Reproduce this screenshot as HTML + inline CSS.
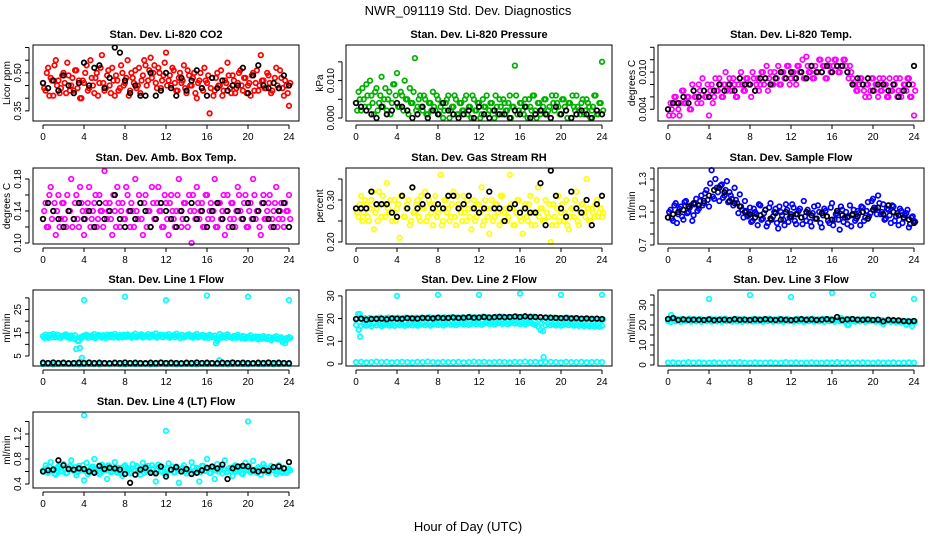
<!DOCTYPE html>
<html><head><meta charset="utf-8"><style>
html,body{margin:0;padding:0;background:#fff;width:936px;height:540px;overflow:hidden}
svg{display:block;font-family:"Liberation Sans",Arial,sans-serif}
</style></head><body>
<svg id="chart" width="936" height="540" viewBox="0 0 936 540" xmlns="http://www.w3.org/2000/svg">
<text x="468" y="15" font-size="13" text-anchor="middle">NWR_091119  Std. Dev. Diagnostics</text>
<text x="468" y="531" font-size="13" text-anchor="middle">Hour of Day (UTC)</text>
</svg>
<script>
const hourTicks=[0,4,8,12,16,20,24];
const co2A=[0.46,0.43,0.52,0.48,0.41,0.55,0.47,0.44,0.50,0.42,0.49,0.45,0.43,0.51,0.47,0.40,0.46,0.53,0.44,0.48,0.42,0.50,0.46,0.57,0.43,0.49,0.45,0.52,0.41,0.47,0.44,0.50,0.46,0.55,0.43,0.48,0.51,0.45,0.42,0.49,0.53,0.47,0.56,0.50,0.46,0.52,0.44,0.49,0.58,0.47,0.45,0.51,0.43,0.48,0.46,0.53,0.42,0.49,0.45,0.50,0.40,0.47,0.44,0.52,0.46,0.34,0.48,0.43,0.50,0.45,0.41,0.47,0.54,0.44,0.49,0.42,0.46,0.51,0.43,0.48,0.45,0.41,0.50,0.46,0.43,0.57,0.47,0.44,0.49,0.42,0.46,0.52,0.44,0.48,0.41,0.45,0.37];
const co2B=[0.44,0.50,0.41,0.47,0.53,0.45,0.42,0.49,0.46,0.54,0.43,0.48,0.51,0.44,0.40,0.47,0.50,0.43,0.55,0.45,0.48,0.41,0.52,0.46,0.44,0.51,0.42,0.47,0.49,0.43,0.53,0.45,0.48,0.41,0.50,0.46,0.44,0.52,0.47,0.55,0.45,0.51,0.48,0.53,0.44,0.50,0.47,0.54,0.45,0.49,0.52,0.46,0.43,0.50,0.47,0.44,0.51,0.45,0.48,0.42,0.46,0.50,0.43,0.47,0.49,0.44,0.41,0.48,0.45,0.51,0.43,0.46,0.49,0.42,0.47,0.44,0.50,0.45,0.48,0.42,0.46,0.49,0.43,0.51,0.45,0.47,0.44,0.50,0.46,0.43,0.48,0.45,0.51,0.44,0.47,0.42,0.46];
const co2Black=[0.46,0.44,0.47,0.43,0.49,0.45,0.42,0.46,0.54,0.45,0.52,0.53,0.44,0.48,0.60,0.58,0.47,0.42,0.45,0.41,0.41,0.50,0.41,0.43,0.50,0.44,0.41,0.48,0.43,0.47,0.51,0.44,0.41,0.48,0.44,0.47,0.43,0.45,0.45,0.52,0.42,0.49,0.53,0.45,0.44,0.46,0.44,0.49,0.45];
const presA=[0.004,0.007,0.002,0.005,0.009,0.003,0.006,0.001,0.008,0.004,0.011,0.005,0.002,0.007,0.004,0.009,0.012,0.003,0.006,0.010,0.005,0.008,0.004,0.016,0.003,0.006,0.002,0.005,0.001,0.004,0.007,0.002,0.005,0.003,0.000,0.004,0.006,0.002,0.003,0.005,0.001,0.004,0.002,0.006,0.003,0.000,0.005,0.002,0.004,0.001,0.003,0.006,0.002,0.004,0.000,0.003,0.005,0.001,0.004,0.002,0.006,0.003,0.014,0.001,0.004,0.002,0.005,0.000,0.003,0.006,0.002,0.004,0.001,0.003,0.005,0.002,0.000,0.004,0.006,0.003,0.001,0.005,0.002,0.004,0.000,0.003,0.006,0.002,0.004,0.001,0.005,0.003,0.002,0.006,0.001,0.004,0.015];
const presB=[0.002,0.005,0.008,0.003,0.006,0.010,0.004,0.007,0.002,0.006,0.003,0.008,0.005,0.001,0.009,0.006,0.003,0.007,0.002,0.005,0.001,0.004,0.007,0.002,0.005,0.003,0.006,0.001,0.004,0.002,0.003,0.006,0.001,0.004,0.002,0.005,0.000,0.003,0.006,0.001,0.004,0.002,0.005,0.001,0.003,0.006,0.002,0.004,0.000,0.005,0.003,0.001,0.004,0.002,0.006,0.001,0.003,0.005,0.002,0.004,0.000,0.003,0.006,0.002,0.004,0.001,0.003,0.005,0.002,0.006,0.000,0.004,0.002,0.005,0.001,0.003,0.006,0.002,0.004,0.001,0.005,0.003,0.000,0.004,0.006,0.002,0.003,0.001,0.005,0.002,0.004,0.000,0.003,0.006,0.001,0.004,0.002];
const presBlack=[0.004,0.003,0.002,0.001,0.000,0.003,0.001,0.002,0.004,0.003,0.002,0.000,0.001,0.003,0.000,0.002,0.001,0.004,0.002,0.001,0.000,0.001,0.002,0.000,0.003,0.001,0.000,0.002,0.001,0.001,0.000,0.002,0.001,0.003,0.000,0.001,0.002,0.001,0.000,0.003,0.001,0.002,0.000,0.001,0.002,0.001,0.000,0.002,0.001];
const tempA=[0.004,0.005,0.003,0.006,0.004,0.005,0.007,0.005,0.006,0.004,0.007,0.006,0.008,0.005,0.007,0.006,0.003,0.008,0.006,0.007,0.009,0.006,0.008,0.007,0.009,0.007,0.008,0.006,0.009,0.008,0.007,0.009,0.008,0.010,0.007,0.009,0.008,0.010,0.009,0.007,0.010,0.008,0.009,0.011,0.008,0.010,0.009,0.011,0.009,0.010,0.008,0.011,0.010,0.009,0.0125,0.010,0.011,0.009,0.010,0.012,0.010,0.011,0.009,0.011,0.010,0.012,0.011,0.010,0.011,0.012,0.010,0.011,0.009,0.008,0.007,0.009,0.008,0.006,0.008,0.007,0.009,0.008,0.006,0.007,0.009,0.008,0.006,0.007,0.008,0.009,0.007,0.006,0.008,0.007,0.009,0.006,0.003];
const tempB=[0.003,0.004,0.006,0.005,0.003,0.007,0.005,0.006,0.004,0.008,0.006,0.005,0.007,0.009,0.006,0.008,0.007,0.005,0.009,0.007,0.008,0.006,0.010,0.008,0.007,0.009,0.006,0.008,0.010,0.007,0.009,0.008,0.006,0.009,0.008,0.007,0.010,0.008,0.011,0.009,0.008,0.010,0.009,0.008,0.010,0.009,0.011,0.008,0.010,0.009,0.011,0.010,0.012,0.009,0.011,0.010,0.009,0.011,0.010,0.012,0.011,0.009,0.012,0.010,0.011,0.012,0.010,0.011,0.012,0.011,0.009,0.010,0.008,0.007,0.008,0.009,0.007,0.008,0.006,0.009,0.007,0.008,0.009,0.007,0.008,0.006,0.009,0.007,0.008,0.006,0.009,0.007,0.008,0.009,0.006,0.008,0.007];
const tempBlack=[0.004,0.005,0.005,0.006,0.005,0.007,0.006,0.007,0.006,0.007,0.008,0.007,0.008,0.007,0.009,0.008,0.008,0.007,0.009,0.009,0.008,0.009,0.010,0.009,0.010,0.009,0.010,0.009,0.011,0.010,0.010,0.011,0.010,0.011,0.011,0.010,0.008,0.009,0.008,0.009,0.007,0.008,0.008,0.007,0.008,0.006,0.007,0.008,0.011];
const ambA=[0.13,0.15,0.12,0.17,0.14,0.11,0.16,0.13,0.15,0.12,0.14,0.18,0.13,0.16,0.12,0.15,0.11,0.14,0.17,0.13,0.15,0.12,0.16,0.14,0.19,0.13,0.15,0.11,0.14,0.17,0.12,0.15,0.13,0.16,0.12,0.14,0.18,0.13,0.15,0.11,0.16,0.14,0.12,0.15,0.13,0.17,0.14,0.12,0.15,0.11,0.16,0.13,0.14,0.18,0.12,0.15,0.13,0.16,0.10,0.14,0.17,0.13,0.15,0.12,0.16,0.14,0.13,0.18,0.12,0.15,0.14,0.11,0.16,0.13,0.15,0.12,0.17,0.14,0.13,0.16,0.12,0.15,0.18,0.13,0.14,0.11,0.16,0.13,0.15,0.12,0.14,0.17,0.13,0.15,0.12,0.14,0.16];
const ambB=[0.14,0.12,0.16,0.13,0.15,0.14,0.12,0.15,0.13,0.16,0.14,0.12,0.15,0.13,0.17,0.14,0.13,0.15,0.12,0.14,0.16,0.13,0.14,0.12,0.15,0.14,0.13,0.16,0.12,0.15,0.14,0.13,0.17,0.14,0.15,0.12,0.14,0.16,0.13,0.15,0.12,0.14,0.17,0.13,0.15,0.14,0.12,0.16,0.13,0.15,0.14,0.12,0.16,0.14,0.13,0.15,0.12,0.14,0.16,0.13,0.15,0.14,0.12,0.16,0.13,0.15,0.14,0.12,0.15,0.13,0.16,0.14,0.12,0.15,0.13,0.14,0.16,0.13,0.15,0.12,0.14,0.13,0.16,0.14,0.12,0.15,0.13,0.14,0.16,0.13,0.15,0.12,0.14,0.13,0.15,0.14,0.13];
const ambBlack=[0.13,0.15,0.14,0.13,0.12,0.14,0.13,0.15,0.13,0.14,0.12,0.15,0.13,0.14,0.16,0.13,0.12,0.14,0.13,0.15,0.14,0.12,0.13,0.15,0.14,0.13,0.12,0.14,0.13,0.15,0.13,0.14,0.12,0.14,0.15,0.13,0.14,0.12,0.14,0.13,0.15,0.13,0.14,0.15,0.13,0.12,0.14,0.15,0.12];
const rhA=[0.28,0.26,0.31,0.27,0.29,0.25,0.30,0.23,0.28,0.32,0.26,0.29,0.34,0.27,0.25,0.30,0.28,0.21,0.31,0.26,0.29,0.24,0.33,0.27,0.30,0.25,0.28,0.32,0.26,0.29,0.24,0.31,0.27,0.36,0.25,0.30,0.28,0.26,0.32,0.24,0.29,0.27,0.31,0.25,0.28,0.23,0.30,0.26,0.29,0.33,0.25,0.28,0.22,0.30,0.26,0.29,0.24,0.31,0.27,0.25,0.36,0.28,0.24,0.30,0.26,0.22,0.29,0.25,0.31,0.27,0.24,0.33,0.28,0.25,0.30,0.26,0.20,0.29,0.24,0.31,0.27,0.25,0.30,0.23,0.28,0.26,0.32,0.24,0.29,0.27,0.35,0.25,0.28,0.26,0.30,0.27,0.26];
const rhB=[0.27,0.29,0.25,0.30,0.26,0.28,0.32,0.27,0.25,0.29,0.31,0.26,0.28,0.30,0.27,0.25,0.29,0.31,0.26,0.28,0.30,0.25,0.27,0.29,0.26,0.31,0.28,0.25,0.30,0.27,0.29,0.26,0.28,0.24,0.30,0.27,0.25,0.29,0.26,0.31,0.28,0.25,0.27,0.30,0.26,0.28,0.25,0.29,0.27,0.24,0.30,0.26,0.28,0.25,0.29,0.27,0.31,0.25,0.28,0.26,0.29,0.24,0.27,0.30,0.25,0.28,0.26,0.29,0.24,0.27,0.30,0.26,0.28,0.25,0.27,0.29,0.24,0.26,0.28,0.25,0.29,0.27,0.24,0.26,0.28,0.30,0.25,0.27,0.29,0.26,0.28,0.25,0.27,0.29,0.26,0.28,0.27];
const rhBlack=[0.28,0.28,0.28,0.32,0.29,0.29,0.29,0.27,0.26,0.31,0.28,0.33,0.28,0.29,0.31,0.28,0.29,0.28,0.31,0.31,0.28,0.29,0.31,0.28,0.27,0.28,0.32,0.28,0.28,0.25,0.28,0.29,0.27,0.28,0.27,0.27,0.34,0.24,0.37,0.31,0.28,0.26,0.32,0.28,0.27,0.30,0.24,0.29,0.31];
const sfA=[0.95,1.02,0.92,1.08,0.98,1.05,0.93,1.10,1.00,1.06,0.97,1.12,1.03,1.15,1.08,1.20,1.05,1.38,1.12,1.22,1.10,1.25,1.15,1.28,1.18,1.12,1.22,1.08,1.16,1.02,1.10,0.96,1.04,0.92,1.00,0.88,1.06,0.94,1.02,0.90,1.08,0.96,1.03,0.85,1.00,0.93,1.07,0.91,0.98,1.04,0.89,1.01,0.95,1.10,0.92,0.99,0.87,1.05,0.94,1.00,0.86,1.03,0.96,0.90,1.08,0.93,0.99,0.84,1.02,0.95,0.89,1.06,0.97,0.92,1.01,0.88,1.04,0.95,1.09,0.99,1.12,1.03,1.15,0.98,1.07,0.94,1.02,0.90,1.05,0.96,0.88,1.01,0.94,0.99,0.86,0.95,0.92];
const sfB=[1.00,0.94,1.06,0.90,1.03,0.96,1.09,0.99,1.04,0.92,1.07,1.01,1.10,1.06,1.17,1.11,1.26,1.14,1.30,1.18,1.24,1.13,1.20,1.09,1.15,1.06,1.11,0.99,1.05,0.95,1.01,0.97,0.91,1.03,0.98,1.07,0.93,0.99,0.87,1.04,0.93,1.00,0.90,1.05,0.97,0.88,1.02,0.95,1.07,0.92,0.98,1.03,0.89,0.96,1.02,0.91,0.99,0.94,1.06,0.90,0.97,1.01,0.92,1.04,0.88,0.98,0.93,1.05,0.91,1.00,0.96,0.87,1.02,0.94,0.99,1.05,0.92,1.01,0.96,1.10,1.04,0.98,1.08,1.00,0.93,1.03,0.97,1.06,0.92,0.99,1.03,0.90,0.97,1.02,0.89,0.96,0.91];
const sfBlack=[0.95,0.98,1.00,1.02,1.05,1.08,1.06,1.10,1.15,1.20,1.22,1.18,1.10,1.08,1.05,1.00,0.98,0.95,0.97,1.02,0.94,0.99,0.93,1.00,0.96,0.98,0.95,1.00,0.97,0.94,0.99,0.96,0.93,1.01,0.97,0.95,0.98,0.96,1.00,0.94,1.02,1.04,0.98,1.06,1.00,0.97,0.95,0.93,0.90];
const l1A=[13.5,14.2,12.8,13.9,14.5,13.1,14.0,12.9,13.7,14.3,13.2,13.8,12.5,8.0,11.5,12.8,13.6,14.1,13.0,13.8,14.4,13.3,13.9,12.9,13.6,14.2,13.1,13.8,14.5,13.4,14.0,13.0,13.7,14.3,13.2,13.9,14.6,13.5,14.1,13.0,13.8,14.4,13.3,13.9,14.7,13.5,14.2,13.1,13.8,14.4,13.3,14.0,14.6,13.6,14.1,13.0,13.7,14.3,13.2,13.9,14.5,13.4,14.0,12.9,13.6,14.2,13.1,13.8,11.5,14.5,13.0,13.7,14.3,13.2,12.8,13.5,14.1,13.0,13.6,12.5,13.3,13.9,12.8,13.4,12.2,13.0,13.6,12.5,13.2,11.8,12.9,13.5,12.3,13.0,11.5,12.7,13.1];
const l1B=[12.8,13.4,14.0,13.0,13.6,14.2,12.9,13.5,14.1,13.1,12.7,13.3,13.9,11.5,13.0,13.5,14.0,12.9,13.6,13.1,12.7,14.0,13.4,13.9,12.8,13.5,14.1,13.0,13.6,12.9,13.4,14.1,13.2,13.7,12.9,13.5,13.1,13.8,14.3,13.2,13.6,13.0,14.2,13.5,12.9,13.6,13.2,14.0,13.4,12.9,13.7,13.1,13.5,12.8,13.9,13.3,14.1,13.4,12.9,13.6,13.0,13.5,14.0,13.2,12.8,13.6,13.1,10.5,12.5,13.3,13.8,12.9,13.4,13.0,13.6,12.8,13.2,12.6,13.4,12.9,13.1,12.5,13.0,12.6,13.2,12.4,12.9,12.3,13.0,12.5,12.8,12.2,12.6,11.0,10.5,12.4,12.8];
const l1Low=[1.5,1.6,1.4,1.5,1.7,1.5,1.6,1.4,1.5,1.6,1.5,1.4,1.6,1.5,1.7,1.5,1.4,1.6,1.5,1.5,1.6,1.4,1.5,1.7,1.5,1.6,1.4,1.5,1.6,1.5,1.4,1.6,1.5,1.7,1.5,1.6,1.4,1.5,1.6,1.5,1.4,1.6,1.5,1.5,1.6,1.4,1.5,1.6,1.5];
const l1Black=[2.1,2.0,2.2,2.0,2.1,1.9,2.0,2.1,2.0,2.2,2.0,2.1,2.0,1.9,2.1,2.0,2.2,2.0,2.1,2.0,1.9,2.1,2.0,2.2,2.0,2.1,2.0,1.9,2.1,2.0,2.2,2.0,2.1,2.0,1.9,2.1,2.0,2.2,2.0,2.1,2.0,1.9,2.1,2.0,2.2,2.0,2.1,2.0,1.9];
const l1ExtraHours=[4,8,12,16,20,24,3.6,3.8,17.2];
const l1ExtraValues=[29,30.5,29,31,30.5,29,8.5,4.2,3.2];
const l2A=[17.2,15.0,16.8,17.5,16.9,17.3,16.6,17.8,17.0,17.4,16.7,17.2,17.6,16.9,17.3,16.8,17.7,17.1,17.4,16.8,17.2,17.6,17.0,17.5,16.9,17.3,17.8,17.1,17.5,16.9,17.4,17.8,17.2,17.6,17.0,17.5,17.9,17.3,17.7,17.1,17.6,18.0,17.4,17.8,17.2,17.7,18.1,17.5,17.9,17.3,17.8,18.2,17.6,18.0,17.4,17.9,18.3,17.7,18.1,17.5,17.9,18.4,17.8,18.2,17.6,18.0,17.4,17.9,18.3,17.7,17.2,16.5,15.0,14.5,17.0,17.6,17.1,17.5,17.0,17.4,16.9,17.3,17.7,17.1,17.5,16.9,17.3,16.8,17.2,16.7,17.1,16.6,17.0,16.5,16.9,16.4,16.8];
const l2B=[20.0,22.0,19.5,20.2,19.8,20.3,19.7,20.1,19.9,20.4,19.8,20.2,20.5,19.9,20.3,20.0,20.4,19.8,20.2,20.5,20.0,20.3,19.9,20.4,20.1,20.5,19.9,20.3,20.6,20.1,20.4,20.0,20.5,20.2,20.6,20.0,20.4,20.7,20.1,20.5,20.2,20.6,20.0,20.4,20.8,20.2,20.6,20.1,20.5,20.9,20.3,20.7,20.1,20.5,20.8,20.3,20.6,20.9,20.4,20.7,20.2,20.6,21.0,20.4,20.8,20.2,20.6,20.1,20.5,20.9,20.3,19.5,18.0,19.0,20.2,20.5,20.0,20.4,19.9,20.3,19.8,20.2,20.5,19.9,20.3,19.8,20.1,19.7,20.0,19.6,19.9,19.5,19.8,19.4,19.7,19.3,19.6];
const l2Low=[0.8,0.9,0.7,0.8,1.0,0.8,0.9,0.7,0.8,0.9,0.8,0.7,0.9,0.8,1.0,0.8,0.7,0.9,0.8,0.8,0.9,0.7,0.8,1.0,0.8,0.9,0.7,0.8,0.9,0.8,0.7,0.9,0.8,1.0,0.8,0.9,0.7,0.8,0.9,0.8,0.7,0.9,0.8,0.8,0.9,0.7,0.8,0.9,0.8];
const l2Black=[19.8,20.0,19.5,19.8,19.9,20.0,19.7,20.1,20.0,19.9,20.2,20.1,20.0,20.3,20.2,20.1,20.4,20.2,20.3,20.5,20.3,20.4,20.6,20.4,20.5,20.7,20.5,20.6,20.8,20.6,20.7,20.9,20.7,21.0,20.8,20.7,20.6,20.5,20.4,20.3,20.2,20.3,20.1,20.2,20.0,20.1,19.9,20.0,19.8];
const l2ExtraHours=[4,8,12,16,20,24,0.2,0.4,18.3];
const l2ExtraValues=[30,30.5,30.5,31,30.5,30.5,22,12,3];
const l3A=[22.0,21.5,22.5,21.8,22.3,21.6,22.4,21.9,22.2,21.7,22.5,21.8,22.3,21.6,22.1,21.9,22.4,21.7,22.2,21.8,22.5,21.6,22.3,21.9,22.1,21.7,22.4,21.8,22.2,21.6,22.5,21.9,22.3,21.7,22.1,21.8,22.4,21.6,22.2,21.9,22.3,21.7,22.5,21.8,22.1,21.6,22.4,21.9,22.2,21.7,22.3,21.8,22.5,21.6,22.1,21.9,22.4,21.7,22.2,21.8,22.3,21.6,22.5,21.9,22.1,21.7,22.4,21.8,22.2,21.6,20.0,21.9,22.3,21.7,22.1,21.8,22.4,21.6,22.2,21.9,22.3,21.7,22.0,21.5,20.5,21.8,22.1,21.6,21.9,21.4,21.8,21.3,21.7,20.2,21.6,21.2,21.5];
const l3B=[22.6,22.9,22.4,23.0,22.7,23.1,22.5,22.8,23.2,22.6,22.9,22.4,23.0,22.7,22.5,22.8,23.1,22.6,22.9,22.4,23.0,22.7,23.2,22.5,22.8,22.6,23.1,22.9,22.4,23.0,22.7,22.5,22.8,23.1,22.6,22.9,22.4,23.0,22.7,23.2,22.5,22.8,22.6,23.1,22.9,22.4,23.0,22.7,22.5,22.8,23.1,22.6,22.9,22.4,23.0,22.7,23.2,22.5,22.8,22.6,23.1,22.9,22.4,23.0,22.7,22.5,22.8,23.5,22.6,22.9,22.4,23.0,22.7,22.5,22.8,22.6,22.9,22.4,22.2,22.7,22.3,22.6,22.1,22.5,22.0,22.4,21.9,22.3,21.8,22.2,21.7,22.1,21.6,22.0,21.5,21.9,21.6];
const l3Low=[1.2,1.3,1.1,1.2,1.4,1.2,1.3,1.1,1.2,1.3,1.2,1.1,1.3,1.2,1.4,1.2,1.1,1.3,1.2,1.2,1.3,1.1,1.2,1.4,1.2,1.3,1.1,1.2,1.3,1.2,1.1,1.3,1.2,1.4,1.2,1.3,1.1,1.2,1.3,1.2,1.1,1.3,1.2,1.2,1.3,1.1,1.2,1.3,1.2];
const l3Black=[23.0,23.5,22.5,22.8,22.6,22.7,22.6,22.5,22.8,22.4,22.6,22.7,22.5,22.9,22.6,22.7,22.5,22.8,22.6,22.9,22.7,22.5,22.8,22.6,22.4,22.7,22.9,22.6,22.8,22.5,22.7,22.9,22.6,24.0,22.5,22.8,23.0,22.7,22.6,22.8,22.5,22.7,21.8,22.6,22.4,22.3,22.0,21.8,22.0];
const l3ExtraHours=[4,8,12,16,20,24,0.3,17.6,23.8];
const l3ExtraValues=[33,35,34,36,35,33,25,20,19.5];
const l4A=[0.62,0.70,0.58,0.75,0.64,0.55,0.68,0.60,0.72,0.57,0.66,0.78,0.61,0.54,0.69,0.63,0.46,0.74,0.59,0.67,0.80,0.62,0.56,0.71,0.65,0.48,0.68,0.60,0.75,0.58,0.66,0.53,0.70,0.63,0.57,0.72,0.61,0.67,0.55,0.74,0.62,0.69,0.58,0.65,0.44,0.71,0.60,0.66,0.56,0.73,0.63,0.59,0.68,0.42,0.64,0.70,0.57,0.62,0.75,0.60,0.66,0.44,0.69,0.61,0.80,0.58,0.67,0.48,0.72,0.63,0.57,0.78,0.60,0.66,0.53,0.70,0.62,0.68,0.56,0.74,0.64,0.59,0.77,0.61,0.67,0.55,0.72,0.63,0.58,0.69,0.62,0.56,0.70,0.60,0.66,0.58,0.64];
const l4B=[0.60,0.65,0.68,0.62,0.57,0.66,0.71,0.60,0.64,0.58,0.69,0.63,0.67,0.59,0.62,0.70,0.61,0.56,0.65,0.68,0.60,0.64,0.58,0.67,0.62,0.70,0.59,0.63,0.66,0.61,0.57,0.68,0.62,0.65,0.59,0.63,0.69,0.60,0.64,0.58,0.66,0.61,0.70,0.59,0.63,0.67,0.60,0.56,0.65,0.62,0.68,0.59,0.64,0.61,0.66,0.60,0.63,0.57,0.67,0.62,0.65,0.59,0.69,0.61,0.64,0.58,0.66,0.62,0.60,0.67,0.63,0.59,0.65,0.61,0.68,0.60,0.64,0.57,0.66,0.62,0.69,0.60,0.63,0.58,0.65,0.61,0.67,0.59,0.64,0.62,0.66,0.60,0.63,0.58,0.65,0.61,0.62];
const l4Black=[0.60,0.62,0.63,0.78,0.70,0.64,0.63,0.65,0.64,0.60,0.58,0.69,0.64,0.66,0.65,0.63,0.56,0.42,0.55,0.63,0.66,0.58,0.57,0.68,0.52,0.63,0.67,0.60,0.64,0.56,0.58,0.62,0.66,0.68,0.65,0.71,0.48,0.65,0.68,0.69,0.68,0.62,0.60,0.62,0.61,0.67,0.68,0.65,0.75];
const l4ExtraHours=[4,12,20];
const l4ExtraValues=[1.5,1.25,1.4];

const NS='http://www.w3.org/2000/svg';
const svg=document.getElementById('chart');
function mk(tag,attrs,parent){const e=document.createElementNS(NS,tag);for(const k in attrs)e.setAttribute(k,attrs[k]);(parent||svg).appendChild(e);return e;}

const panels=[
 {key:'co2',title:'Stan. Dev. Li-820 CO2',ylab:'Licor ppm',left:33,top:45,ymin:0.31,ymax:0.61,ticks:[0.35,0.40,0.45,0.50,0.55,0.60],labels:['0.35','','','0.50','',''],color:'#ff0000',series:[co2A,co2B],low:null,black:co2Black,eh:[],ev:[]},
 {key:'pressure',title:'Stan. Dev. Li-820 Pressure',ylab:'kPa',left:346,top:45,ymin:-0.0008,ymax:0.0195,ticks:[0,0.005,0.010,0.015],labels:['0.000','','0.010',''],color:'#00b000',series:[presA,presB],low:null,black:presBlack,eh:[],ev:[]},
 {key:'temp',title:'Stan. Dev. Li-820 Temp.',ylab:'degrees C',left:658,top:45,ymin:0.00211,ymax:0.01437,ticks:[0.004,0.006,0.008,0.010,0.012,0.014],labels:['0.004','','','0.010','',''],color:'#ff00ff',series:[tempA,tempB],low:null,black:tempBlack,eh:[],ev:[]},
 {key:'amb',title:'Stan. Dev. Amb. Box Temp.',ylab:'degrees C',left:33,top:168,ymin:0.09875,ymax:0.19375,ticks:[0.10,0.12,0.14,0.16,0.18],labels:['0.10','','0.14','','0.18'],color:'#ff00ff',series:[ambA,ambB],low:null,black:ambBlack,eh:[],ev:[]},
 {key:'rh',title:'Stan. Dev. Gas Stream RH',ylab:'percent',left:346,top:168,ymin:0.1952,ymax:0.3762,ticks:[0.20,0.25,0.30,0.35],labels:['0.20','','0.30',''],color:'#ffff00',series:[rhA,rhB],low:null,black:rhBlack,eh:[],ev:[]},
 {key:'sample',title:'Stan. Dev. Sample Flow',ylab:'ml/min',left:658,top:168,ymin:0.709,ymax:1.40,ticks:[0.7,0.8,0.9,1.0,1.1,1.2,1.3,1.4],labels:['0.7','','','1.0','','','1.3',''],color:'#0000ff',series:[sfA,sfB],low:null,black:sfBlack,eh:[],ev:[]},
 {key:'line1',title:'Stan. Dev. Line 1 Flow',ylab:'ml/min',left:33,top:290,ymin:0.69,ymax:33.4,ticks:[5,10,15,20,25,30],labels:['5','','15','','25',''],color:'#00ffff',series:[l1A,l1B],low:l1Low,black:l1Black,eh:l1ExtraHours,ev:l1ExtraValues},
 {key:'line2',title:'Stan. Dev. Line 2 Flow',ylab:'ml/min',left:346,top:290,ymin:-0.9,ymax:32.6,ticks:[0,10,20,30],labels:['0','10','20','30'],color:'#00ffff',series:[l2A,l2B],low:l2Low,black:l2Black,eh:l2ExtraHours,ev:l2ExtraValues},
 {key:'line3',title:'Stan. Dev. Line 3 Flow',ylab:'ml/min',left:658,top:290,ymin:-0.5,ymax:37.5,ticks:[0,5,10,15,20,25,30,35],labels:['0','','10','','20','','30',''],color:'#00ffff',series:[l3A,l3B],low:l3Low,black:l3Black,eh:l3ExtraHours,ev:l3ExtraValues},
 {key:'line4',title:'Stan. Dev. Line 4 (LT) Flow',ylab:'ml/min',left:33,top:412,ymin:0.336,ymax:1.552,ticks:[0.4,0.6,0.8,1.0,1.2,1.4],labels:['0.4','','0.8','','1.2',''],color:'#00ffff',series:[l4A,l4B],low:null,black:l4Black,eh:l4ExtraHours,ev:l4ExtraValues}
];
const W=266,H=76,R=2.3;

panels.forEach(p=>{
  const g=mk('g',{});
  
  
  const xs=h=>p.left+10+h*10.25;
  const ys=v=>p.top+(p.ymax-v)/(p.ymax-p.ymin)*H;
  const t=mk('text',{x:p.left+W/2,y:p.top-7,'font-size':11,'font-weight':'bold','text-anchor':'middle'},g);
  t.textContent=p.title;
  
  
  const pts=mk('g',{fill:'none','stroke-width':1.7},g);
  
  
  function dot(h,v,col,name){
    const c=mk('circle',{cx:xs(h).toFixed(1),cy:ys(v).toFixed(1),r:R,stroke:col},pts);
    
    
  }
  p.series.forEach((arr,si)=>arr.forEach((v,i)=>dot(i*0.25+si*0.12,v,p.color,'point-'+p.key)));
  if(p.low)p.low.forEach((v,i)=>dot(i*0.5,v,p.color,'point-low-'+p.key));
  p.eh.forEach((h,i)=>dot(h,p.ev[i],p.color,'point-outlier-'+p.key));
  p.black.forEach((v,i)=>dot(i*0.5,v,'#000','point-mean-'+p.key));
  const box=mk('rect',{x:p.left,y:p.top,width:W,height:H,fill:'none',stroke:'#000','stroke-width':1},g);
  
  
  const by=p.top+H;
  const xa=mk('g',{},g);
  
  
  mk('line',{x1:xs(0),x2:xs(24),y1:by+4,y2:by+4,stroke:'#000'},xa);
  hourTicks.forEach(h=>{
    mk('line',{x1:xs(h),x2:xs(h),y1:by+4,y2:by+8,stroke:'#000'},xa);
    const l=mk('text',{x:xs(h),y:by+19,'font-size':10,'text-anchor':'middle'},xa);
    l.textContent=h;
    
    
  });
  const ya=mk('g',{},g);
  
  
  const ax=p.left-4;
  mk('line',{x1:ax,x2:ax,y1:ys(p.ticks[0]),y2:ys(p.ticks[p.ticks.length-1]),stroke:'#000'},ya);
  p.ticks.forEach((v,i)=>{
    const y=ys(v);
    mk('line',{x1:ax-4,x2:ax,y1:y,y2:y,stroke:'#000'},ya);
    if(p.labels[i]){
      const l=mk('text',{x:0,y:0,'font-size':10,'text-anchor':'middle',transform:`translate(${ax-8},${y}) rotate(-90)`},ya);
      l.textContent=p.labels[i];
      
      
    }
  });
  const yl=mk('text',{x:0,y:0,'font-size':10,'text-anchor':'middle',transform:`translate(${p.left-23},${p.top+H/2}) rotate(-90)`},g);
  yl.textContent=p.ylab;
  
  
});
</script>
</body></html>
